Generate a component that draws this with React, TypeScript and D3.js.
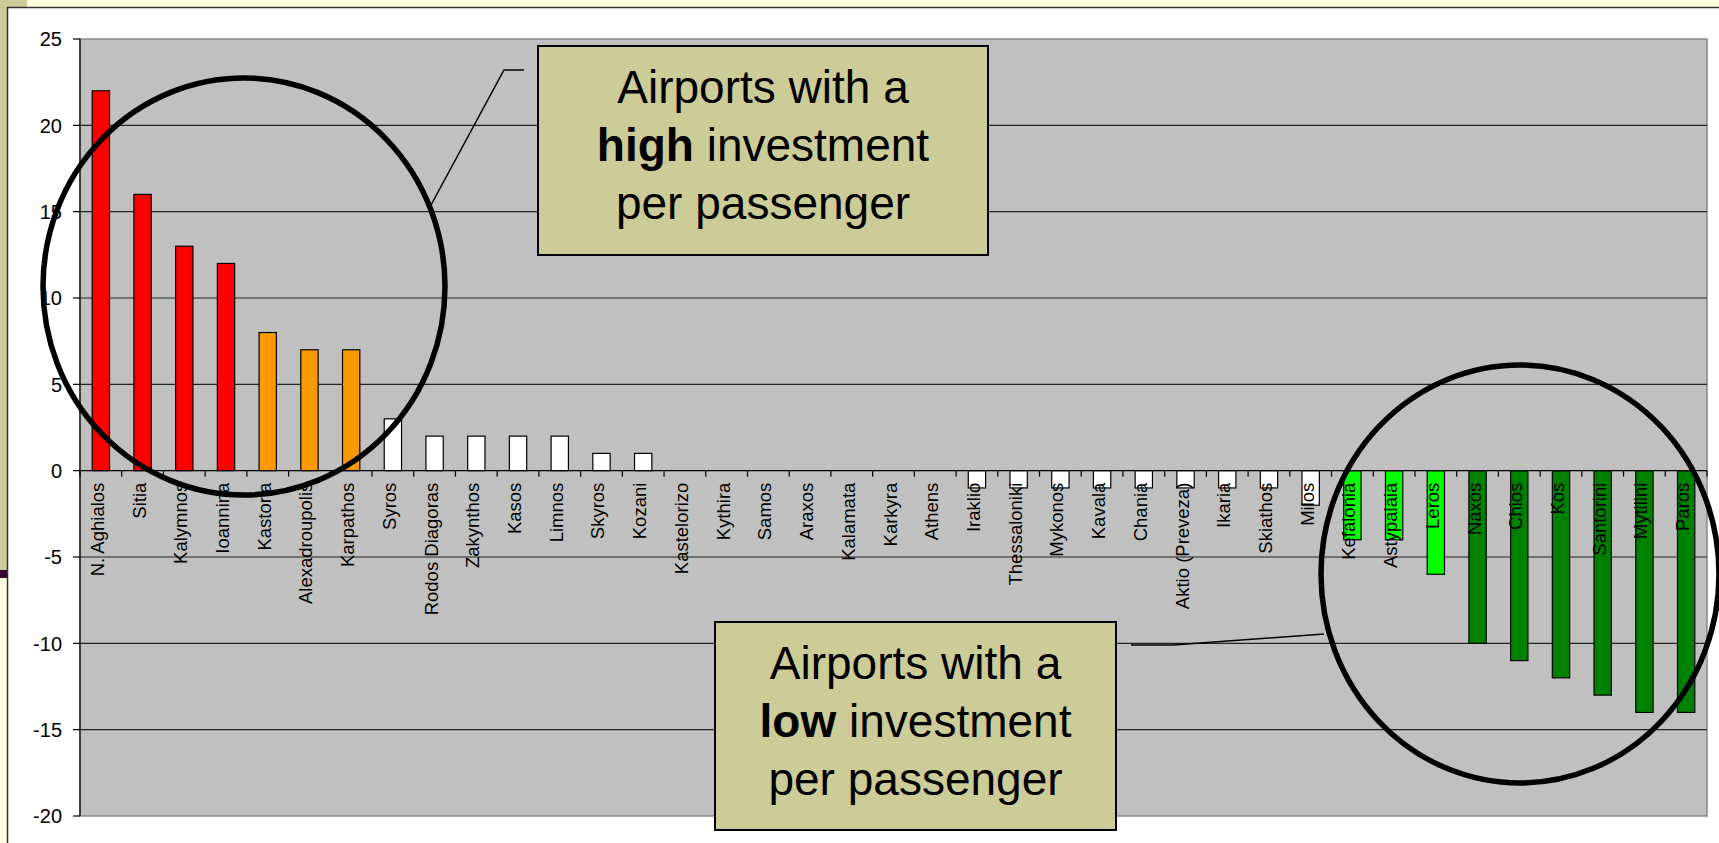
import React from "react";
import * as d3 from "d3";

const categories = [
  "N. Aghialos", "Sitia", "Kalymnos", "Ioannina", "Kastoria", "Alexadroupolis", "Karpathos",
  "Syros", "Rodos Diagoras", "Zakynthos", "Kasos", "Limnos", "Skyros", "Kozani",
  "Kastelorizo", "Kythira", "Samos", "Araxos", "Kalamata", "Karkyra", "Athens",
  "Iraklio", "Thessaloniki", "Mykonos", "Kavala", "Chania", "Aktio (Preveza)", "Ikaria", "Skiathos",
  "Milos", "Kefalonia", "Astypalaia", "Leros", "Naxos", "Chios", "Kos", "Santorini", "Mytilini", "Paros",
];

const values = [
  22, 16, 13, 12, 8, 7, 7,
  3, 2, 2, 2, 2, 1, 1,
  0, 0, 0, 0, 0, 0, 0,
  -1, -1, -1, -1, -1, -1, -1, -1,
  -2, -4, -4, -6, -10, -11, -12, -13, -14, -14,
];

const groups = [
  "high", "high", "high", "high", "medium", "medium", "medium",
  "neutral", "neutral", "neutral", "neutral", "neutral", "neutral", "neutral",
  "neutral", "neutral", "neutral", "neutral", "neutral", "neutral", "neutral",
  "neutral", "neutral", "neutral", "neutral", "neutral", "neutral", "neutral", "neutral",
  "neutral", "lowLight", "lowLight", "lowLight", "low", "low", "low", "low", "low", "low",
];

const yTicks = [-20, -15, -10, -5, 0, 5, 10, 15, 20, 25];

const highLines = ["Airports with a", "high", "investment", "per passenger"];
const lowLines = ["Airports with a", "low", "investment", "per passenger"];

const colorMap: Record<string, string> = {
  high: "#ff0000",
  medium: "#ff9900",
  neutral: "#ffffff",
  lowLight: "#00ff00",
  low: "#008000",
};

const W = 1719;
const H = 843;
const PL = 80, PR = 1707, PT = 39, PB = 816;
const FONT = "'Liberation Sans', Arial, Helvetica, sans-serif";

function Callout({ x, y, w, h, lines }: { x: number; y: number; w: number; h: number; lines: string[] }) {
  const cx = x + w / 2;
  return (
    <g>
      <rect x={x} y={y} width={w} height={h} fill="#cccc99" stroke="#000" strokeWidth={2} />
      <text x={cx} y={y + 57} textAnchor="middle" fontFamily={FONT} fontSize={46} fill="#000">{lines[0]}</text>
      <text x={cx} y={y + 115} textAnchor="middle" fontFamily={FONT} fontSize={46} fill="#000">
        <tspan fontWeight="bold">{lines[1]}</tspan>
        <tspan>{" " + lines[2]}</tspan>
      </text>
      <text x={cx} y={y + 173} textAnchor="middle" fontFamily={FONT} fontSize={46} fill="#000">{lines[3]}</text>
    </g>
  );
}

export default function App() {
  const x = d3.scaleBand<string>().domain(categories).range([PL, PR]).padding(0);
  const y = d3.scaleLinear().domain([-20, 25]).range([PB, PT]);
  const bw = x.bandwidth() * 0.415;
  const y0 = y(0);

  const bandEdges = categories.map((c) => x(c) as number).concat([PR]);

  return (
    <svg width={W} height={H} style={{ position: "absolute", left: 0, top: 0, display: "block" }}>
      {/* page frame */}
      <rect x={0} y={0} width={W} height={H} fill="#ffffff" />
      <rect x={0} y={0} width={W} height={7} fill="#ffffe0" />
      <rect x={0} y={0} width={27} height={7} fill="#cccc99" />
      <rect x={0} y={7} width={7} height={563} fill="#cccc99" />
      <rect x={0} y={570} width={7} height={8} fill="#330033" />
      <rect x={0} y={578} width={7} height={H - 578} fill="#ffffe0" />
      <line x1={7} y1={7.5} x2={W} y2={7.5} stroke="#333" strokeWidth={1.5} />
      <line x1={7.5} y1={7} x2={7.5} y2={H} stroke="#333" strokeWidth={1.5} />

      {/* plot area */}
      <rect x={PL} y={PT} width={PR - PL} height={PB - PT} fill="#c0c0c0" stroke="#888" strokeWidth={1.5} />

      {/* grid lines */}
      {yTicks.filter((t) => t !== 0 && t !== 25 && t !== -20).map((t) => (
        <line key={"g" + t} x1={PL} x2={PR} y1={y(t)} y2={y(t)} stroke="#222" strokeWidth={1.2} />
      ))}

      {/* y axis */}
      <line x1={PL} x2={PL} y1={PT} y2={PB} stroke="#000" strokeWidth={1.2} />
      {yTicks.map((t) => (
        <g key={"t" + t}>
          <line x1={PL - 7} x2={PL} y1={y(t)} y2={y(t)} stroke="#000" strokeWidth={1.2} />
          <text x={62} y={y(t)} dy="0.36em" textAnchor="end" fontFamily={FONT} fontSize={20} fill="#000">
            {t}
          </text>
        </g>
      ))}

      {/* bars */}
      {categories.map((c, i) => {
        const v = values[i];
        if (v === 0) return null;
        const cx = (x(c) as number) + x.bandwidth() / 2;
        const top = Math.min(y(v), y0);
        const hgt = Math.abs(y(v) - y0);
        return (
          <rect key={"b" + c} x={cx - bw / 2} y={top} width={bw} height={hgt}
            fill={colorMap[groups[i]]} stroke="#000" strokeWidth={1.2} />
        );
      })}

      {/* x axis */}
      <line x1={PL} x2={PR} y1={y0} y2={y0} stroke="#000" strokeWidth={1.2} />
      {bandEdges.map((e, i) => (
        <line key={"xt" + i} x1={e} x2={e} y1={y0} y2={y0 + 6} stroke="#000" strokeWidth={1.2} />
      ))}

      {/* category labels */}
      {categories.map((c) => {
        const cx = (x(c) as number) + x.bandwidth() / 2;
        const ly = y0 + 12;
        return (
          <text key={"l" + c} transform={`translate(${cx},${ly}) rotate(-90)`} dy={3}
            textAnchor="end" fontFamily={FONT} fontSize={18.5} fill="#000">
            {c}
          </text>
        );
      })}

      {/* annotations */}
      <ellipse cx={244} cy={286.5} rx={201} ry={208.5} fill="none" stroke="#000" strokeWidth={5.5} />
      <ellipse cx={1520} cy={574} rx={199} ry={209} fill="none" stroke="#000" strokeWidth={5.5} />
      <polyline points="431,205 504,70 524,70" fill="none" stroke="#000" strokeWidth={1.5} />
      <polyline points="1131,645 1173,645 1324,634" fill="none" stroke="#000" strokeWidth={1.5} />
      <Callout x={538} y={46} w={450} h={209} lines={highLines} />
      <Callout x={715} y={622} w={401} h={208} lines={lowLines} />
    </svg>
  );
}
